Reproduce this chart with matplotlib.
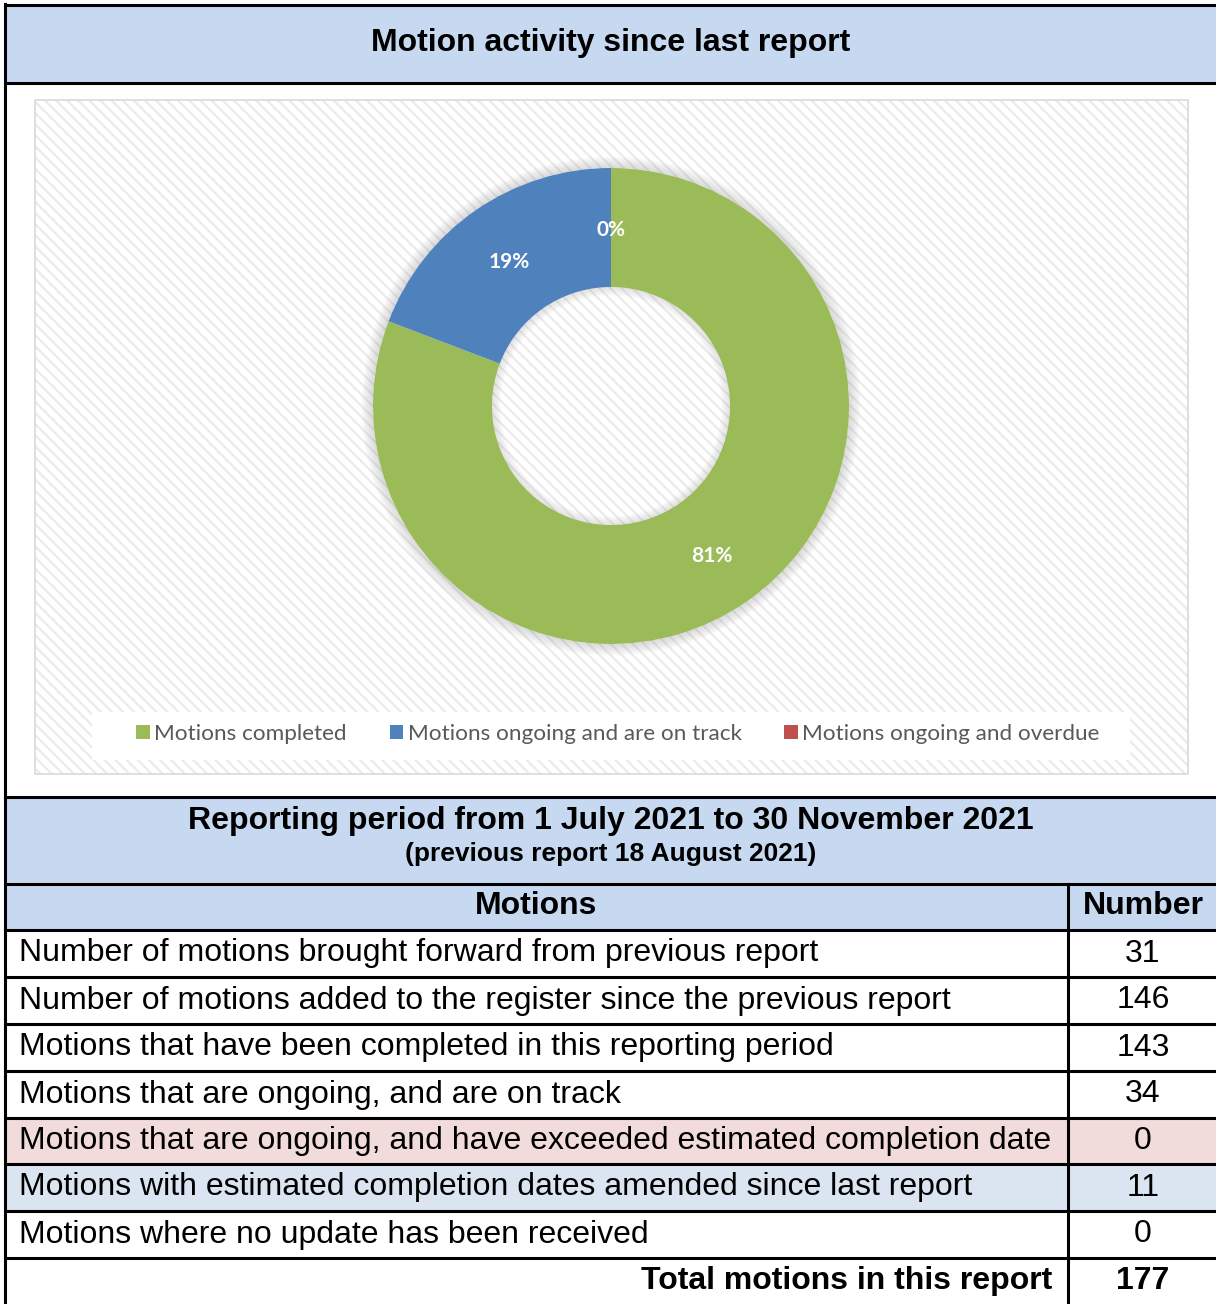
import matplotlib.pyplot as plt
from matplotlib.patches import Rectangle, Wedge

# pie data
pie_labels = ["Motions completed", "Motions ongoing and are on track", "Motions ongoing and overdue"]
pie_values = [143, 34, 0]
pie_colors = ["#9BBB59", "#4F81BD", "#C0504D"]

# table data
row_labels = [
    "Number of motions brought forward from previous report",
    "Number of motions added to the register since the previous report",
    "Motions that have been completed in this reporting period",
    "Motions that are ongoing, and are on track",
    "Motions that are ongoing, and have exceeded estimated completion date",
    "Motions with estimated completion dates amended since last report",
    "Motions where no update has been received",
]
row_values = [31, 146, 143, 34, 0, 11, 0]
row_fills = ["white", "white", "white", "white", "#F2DCDB", "#DBE5F1", "white"]
total_label = "Total motions in this report"
total_value = 177

title = "Motion activity since last report"
period = "Reporting period from 1 July 2021 to 30 November 2021"
prev_report = "(previous report 18 August 2021)"

W, H = 1216, 1304
BLUE = "#C6D9F1"
ARIAL = ["Liberation Sans", "DejaVu Sans"]
CAL = ["Lato", "DejaVu Sans"]
plt.rcParams["hatch.linewidth"] = 1.6

fig = plt.figure(figsize=(W / 100, H / 100), dpi=100)
ax = fig.add_axes([0, 0, 1, 1])
ax.set_xlim(0, W)
ax.set_ylim(H, 0)
ax.axis("off")

lw = 2.2
# title band
ax.add_patch(Rectangle((5, 5), W, 78, facecolor=BLUE, edgecolor="none"))
ax.text(611, 43, title, ha="center", va="center", fontsize=23, fontweight="bold", family=ARIAL)

# chart background
ax.add_patch(Rectangle((35, 100), 1153, 674, facecolor="white", edgecolor="#ebebeb",
                       hatch="\\\\\\", linewidth=0))
ax.add_patch(Rectangle((35, 100), 1153, 674, fill=False, edgecolor="#d9d9d9", linewidth=1.2))
ax.add_patch(Rectangle((92, 712), 1038, 48, facecolor="white", edgecolor="none"))

# period band
ax.add_patch(Rectangle((5, 797), W, 87, facecolor=BLUE, edgecolor="none"))
ax.text(611, 821, period, ha="center", va="center", fontsize=23, fontweight="bold", family=ARIAL)
ax.text(611, 854, prev_report, ha="center", va="center", fontsize=19, fontweight="bold", family=ARIAL)

# header row
ax.add_patch(Rectangle((5, 884), W, 46, facecolor=BLUE, edgecolor="none"))
ax.text(536, 906, "Motions", ha="center", va="center", fontsize=23, fontweight="bold", family=ARIAL)
ax.text(1143, 906, "Number", ha="center", va="center", fontsize=23, fontweight="bold", family=ARIAL)

row_edges = [930, 977, 1024, 1071, 1118, 1164, 1211, 1258, 1304]
for i, (lab, val) in enumerate(zip(row_labels, row_values)):
    y0, y1 = row_edges[i], row_edges[i + 1]
    ax.add_patch(Rectangle((5, y0), W, y1 - y0, facecolor=row_fills[i], edgecolor="none"))
    yc = (y0 + y1) / 2
    ax.text(19, yc, lab, ha="left", va="center", fontsize=23, family=ARIAL)
    ax.text(1143, yc, str(val), ha="center", va="center", fontsize=23, family=ARIAL)

yc = (row_edges[-2] + row_edges[-1]) / 2
ax.text(1052, yc, total_label, ha="right", va="center", fontsize=23, fontweight="bold", family=ARIAL)
ax.text(1143, yc, str(total_value), ha="center", va="center", fontsize=23, fontweight="bold", family=ARIAL)

# grid lines
for y in [5, 83, 797, 884] + row_edges[:-1]:
    ax.plot([4, W], [y, y], color="black", linewidth=lw, solid_capstyle="butt")
ax.plot([5, 5], [4, H], color="black", linewidth=lw)
ax.plot([1068, 1068], [884, H], color="black", linewidth=lw)

# donut
cx, cy, r = 611, 406, 238
pax = fig.add_axes([(cx - r * 1.1) / W, 1 - (cy + r * 1.1) / H, 2.2 * r / W, 2.2 * r / H])
pax.axis("off")
for k in range(8):
    pax.add_patch(Wedge((0, 0), 1.0 + 0.006 * (k + 1), 0, 360, width=0.006 * (k + 1),
                        facecolor="#808080", alpha=0.035, edgecolor="none", zorder=0))
wedges, _, autotexts = pax.pie(pie_values, colors=pie_colors, startangle=90, counterclock=False,
                               radius=1.0, autopct="%1.0f%%", pctdistance=0.75,
                               wedgeprops=dict(width=0.5, linewidth=0),
                               textprops=dict(color="white", fontsize=15, fontweight="bold", family=CAL))
for t in autotexts:
    x, y = t.get_position()
    t.set_position((x, y - 0.012))
for k in range(6):
    pax.add_patch(Wedge((0, 0), 0.5, 0, 360, width=0.006 * (k + 1),
                        facecolor="#808080", alpha=0.035, edgecolor="none", zorder=3))
pax.set_xlim(-1.1, 1.1)
pax.set_ylim(-1.1, 1.1)

leg = ax.legend(wedges, pie_labels, loc="center", bbox_to_anchor=(618 / W, 1 - 734 / H),
                bbox_transform=fig.transFigure, ncol=3, frameon=False,
                prop=dict(family=CAL, size=16.2), handlelength=0.6, handleheight=0.6,
                handletextpad=0.2, columnspacing=1.9)
for t in leg.get_texts():
    t.set_color("#595959")

fig.savefig("out.png", dpi=100)
